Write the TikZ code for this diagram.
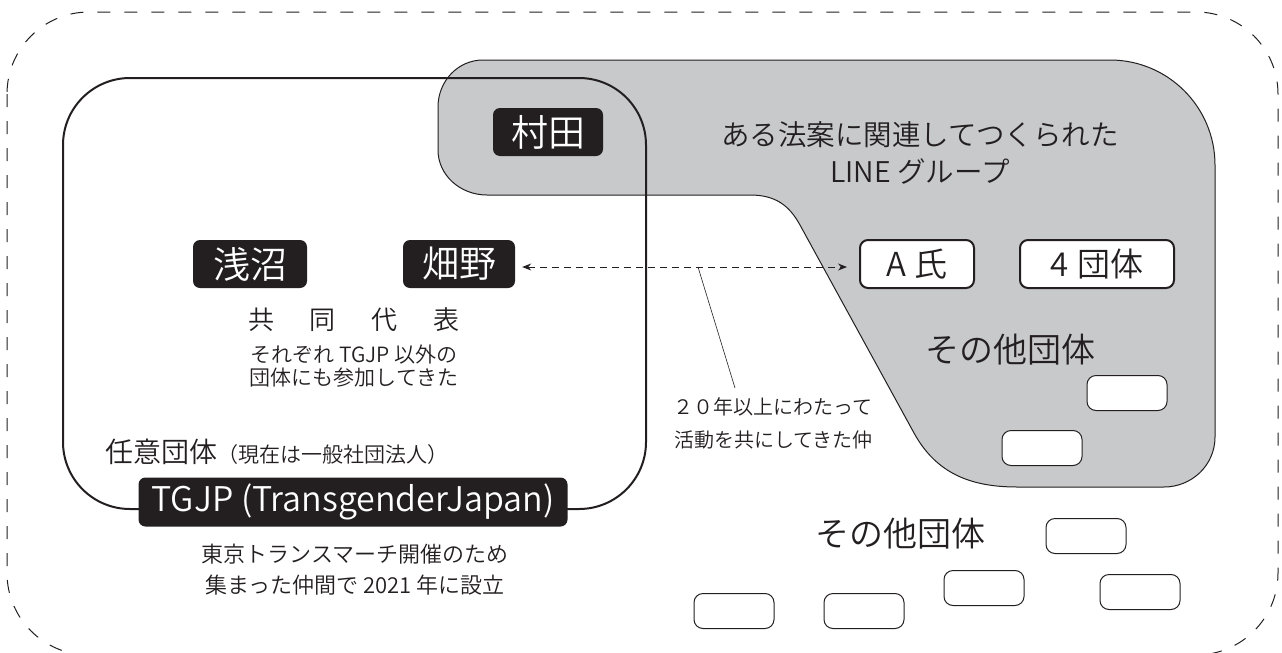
\documentclass[tikz,border=0pt]{standalone}
\usepackage{fontspec}
\IfFontExistsTF{Noto Sans CJK JP DemiLight}{\setmainfont{Noto Sans CJK JP DemiLight}}{%
  \IfFontExistsTF{Noto Sans CJK JP Light}{\setmainfont{Noto Sans CJK JP Light}}{\setmainfont{Noto Sans CJK JP}}}
\usetikzlibrary{arrows.meta,calc}
\definecolor{ink}{HTML}{231F20}
\definecolor{fillgray}{HTML}{C8C9CB}
\begin{document}
\begin{tikzpicture}[x=1pt,y=-1pt,
  blackbox/.style={fill=ink, text=white, rounded corners=7pt, inner sep=0pt, minimum height=48pt, font=\fontsize{37}{40}\selectfont},
  whitebox/.style={draw=ink, line width=2pt, fill=white, rounded corners=8pt, minimum height=48pt, inner sep=0pt, text=ink, font=\fontsize{33}{36}\selectfont},
  emptybox/.style={draw=ink, line width=1pt, fill=white, rounded corners=9pt, minimum width=80pt, minimum height=35pt, inner sep=0pt},
  lbl/.style={text=ink, inner sep=0pt, align=center},
  thinlink/.style={draw=ink, line width=0.6pt},
  dasharrow/.style={draw=ink, line width=0.9pt, dash pattern=on 7pt off 5pt, {Stealth[length=9pt,width=7pt]}-{Stealth[length=9pt,width=7pt]}}
]
\useasboundingbox (0,0) rectangle (1282,653);
% outer dashed region
\draw[ink, line width=1pt, dash pattern=on 13pt off 14pt, rounded corners=82pt] (7,12) rectangle (1278,655);
% gray LINE group shape
\path[fill=fillgray, draw=ink, line width=1pt]
  (483,60) -- (1110,60) .. controls (1168,60) and (1215,107) .. (1215,165)
  -- (1215,437) .. controls (1215,465) and (1192,487) .. (1164,487)
  -- (1017,487) .. controls (970,487) and (936,473) .. (914,433)
  -- (800,225) .. controls (789,205) and (775,195) .. (750,195)
  -- (487,195) .. controls (460,195) and (438,175) .. (438,150)
  -- (438,107) .. controls (438,81) and (458,60) .. (483,60) -- cycle;
% TGJP rounded region
\draw[ink, line width=2pt, rounded corners=67pt] (63,78) rectangle (646,509);

% nodes
\node[blackbox, minimum width=110pt] (murata) at (548,132) {村田};
\node[blackbox, minimum width=114pt] (asanuma) at (250,264) {浅沼};
\node[blackbox, minimum width=112pt] (hatano) at (459,264) {畑野};
\node[whitebox, minimum width=114pt] (ashi) at (917,264) {A 氏};
\node[whitebox, minimum width=154pt] (yon) at (1097,264) {4\hspace{8pt}団体};
\node[lbl, font=\fontsize{28.5}{37}\selectfont] (linegroup) at (920,153) {ある法案に関連してつくられた\\LINE グループ};
\node[lbl, font=\fontsize{34}{36}\selectfont] (sonota1) at (1010,350) {その他団体};
\node[emptybox] (e1) at (1127,393) {};
\node[emptybox] (e2) at (1042,448) {};
\node[lbl, font=\fontsize{34}{36}\selectfont] (sonota2) at (900,534) {その他団体};
\node[emptybox] (e3) at (1086,536) {};
\node[emptybox] (e4) at (984,588) {};
\node[emptybox] (e5) at (1140,592) {};
\node[emptybox] (e6) at (734,611) {};
\node[emptybox] (e7) at (864,611) {};

\node[lbl, font=\fontsize{26}{28}\selectfont] (kyodo) at (354,320) {共\hspace{36pt}同\hspace{36pt}代\hspace{36pt}表};
\node[lbl, font=\fontsize{21}{23}\selectfont] (sorezore) at (354,366) {それぞれ TGJP 以外の\\団体にも参加してきた};
\node[lbl, anchor=west] (nini) at (105,452) {\fontsize{28}{30}\selectfont 任意団体\fontsize{21}{30}\selectfont（現在は一般社団法人）};
\node[blackbox, minimum width=429pt, minimum height=49pt, font=\fontsize{34}{36}\selectfont] (tgjp) at (353,502) {TGJP (TransgenderJapan)};
\node[lbl, font=\fontsize{22}{31}\selectfont] (tokyo) at (355,570) {東京トランスマーチ開催のため\\集まった仲間で 2021 年に設立};

\node[lbl, align=right, anchor=east, font=\fontsize{20}{33}\selectfont] (nijuu) at (873,423) {２０年以上にわたって\\活動を共にしてきた仲};

% connectors
\draw[dasharrow, shorten <=7pt, shorten >=12pt] ([yshift=-3pt]hatano.east) -- ([yshift=-3pt]ashi.west);
\coordinate (k1) at (698,267);
\coordinate (k2) at (735,388);
\draw[thinlink] (k1) -- (k2);
\end{tikzpicture}
\end{document}
